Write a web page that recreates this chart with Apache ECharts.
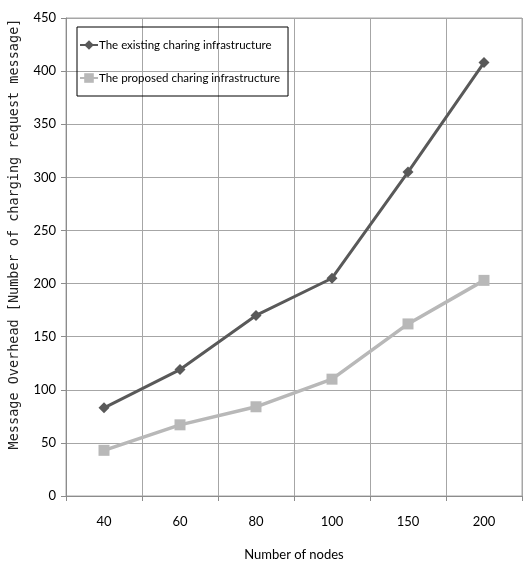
<!DOCTYPE html>
<html><head><meta charset="utf-8">
<script src="https://cdn.jsdelivr.net/npm/echarts@6/dist/echarts.min.js"></script>
<style>html,body{margin:0;padding:0;background:#fff}#c{width:526px;height:566px}</style>
</head><body><div id="c"></div>
<script>
const categories = ['40', '60', '80', '100', '150', '200'];
const existing = [83, 119, 170, 205, 305, 408];
const proposed = [43, 67, 84, 110, 162, 203];
const seriesNames = ['The existing charing infrastructure', 'The proposed charing infrastructure'];
const yTitle = 'Message Overhead [Number of charging request message]';
const xTitle = 'Number of nodes';

const chart = echarts.init(document.getElementById('c'));
const font = "Lato, 'Liberation Sans', sans-serif";
chart.setOption({
  animation: false,
  backgroundColor: '#fff',
  grid: { left: 66, right: 4, top: 18, bottom: 70, show: true, borderColor: '#a6a6a6', borderWidth: 1 },
  legend: {
    orient: 'vertical', left: 77, top: 27,
    padding: [12, 8, 12, 2], itemGap: 21,
    itemWidth: 18, itemHeight: 12,
    borderColor: '#000', borderWidth: 1,
    textStyle: { fontFamily: font, fontSize: 11.5, color: '#000', padding: [0, 0, 0, -4] },
    data: seriesNames
  },
  graphic: [{
    type: 'text', x: 14, y: 234, rotation: Math.PI / 2,
    style: { text: yTitle, fontFamily: "'DejaVu Sans Mono', monospace", fontSize: 13.5,
             fill: '#222', align: 'center', verticalAlign: 'middle' }
  }],
  xAxis: {
    type: 'category', data: categories, boundaryGap: true,
    name: xTitle, nameLocation: 'middle', nameGap: 52,
    nameTextStyle: { fontFamily: font, fontSize: 13, color: '#000' },
    axisLine: { lineStyle: { color: '#8c8c8c', width: 1 } },
    axisTick: { show: true, length: 5, lineStyle: { color: '#8c8c8c' } },
    axisLabel: { fontFamily: font, fontSize: 13, color: '#000', margin: 19 },
    splitLine: { show: true, lineStyle: { color: '#a6a6a6', width: 1 } }
  },
  yAxis: {
    type: 'value', min: 0, max: 450, interval: 50,
    axisLine: { show: true, lineStyle: { color: '#8c8c8c', width: 1 } },
    axisTick: { show: true, length: 5, inside: false, lineStyle: { color: '#8c8c8c' } },
    axisLabel: { fontFamily: font, fontSize: 13, color: '#000', margin: 10 },
    splitLine: { show: true, lineStyle: { color: '#a6a6a6', width: 1 } }
  },
  series: [
    {
      name: seriesNames[0], type: 'line', data: existing,
      symbol: 'diamond', symbolSize: 11,
      lineStyle: { color: '#595959', width: 3 },
      itemStyle: { color: '#595959' }
    },
    {
      name: seriesNames[1], type: 'line', data: proposed,
      symbol: 'rect', symbolSize: 11,
      lineStyle: { color: '#b8b8b8', width: 3.5 },
      itemStyle: { color: '#b8b8b8' }
    }
  ]
});
</script></body></html>
